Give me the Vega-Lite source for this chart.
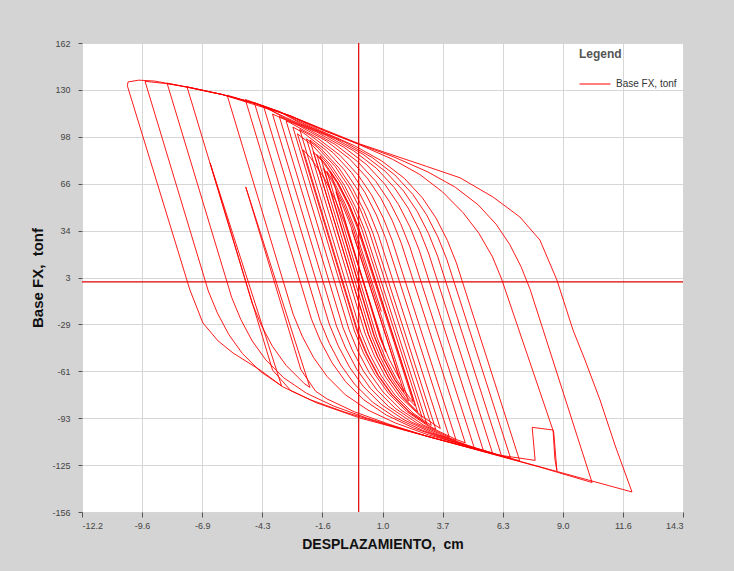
{
  "$schema": "https://vega.github.io/schema/vega-lite/v6.json",
  "width": 601,
  "height": 469,
  "autosize": {"type": "none"},
  "padding": {"left": 82, "top": 43, "right": 51, "bottom": 59},
  "background": "#d4d4d4",
  "config": {
    "font": "Liberation Sans",
    "view": {"fill": "white", "stroke": null},
    "axis": {
      "grid": true,
      "gridColor": "#d6d6d6",
      "gridWidth": 1,
      "domain": false,
      "tickColor": "#555555",
      "tickSize": 5,
      "labelFontSize": 9,
      "labelColor": "#444444",
      "titleFontSize": 14,
      "titleFontWeight": "bold",
      "titleColor": "#111111"
    }
  },
  "layer": [
    {
      "data": {"values": [{"v": 0}]},
      "mark": {"type": "rule", "color": "#e00000", "strokeWidth": 1.2},
      "encoding": {"y": {"field": "v", "type": "quantitative"}}
    },
    {
      "data": {"values": [{"v": 0}]},
      "mark": {"type": "rule", "color": "#e00000", "strokeWidth": 1.2},
      "encoding": {"x": {"field": "v", "type": "quantitative"}}
    },
    {
      "data": {"values": [
        {"x":1.0,"y":-20},{"x":-0.2,"y":37.6},{"x":-0.6,"y":53.0},{"x":-1.1,"y":68.1},{"x":-1.4,"y":75.0},
        {"x":0.80,"y":-37.4},{"x":1.20,"y":-52.3},{"x":1.70,"y":-66.8},{"x":2.30,"y":-79.7},{"x":2.4,"y":-81.2},
        {"x":-0.06,"y":36.8},{"x":-0.46,"y":52.2},{"x":-0.96,"y":67.3},{"x":-1.56,"y":81.0},{"x":-2.0,"y":88.3},
        {"x":0.43,"y":-35.8},{"x":0.83,"y":-50.7},{"x":1.33,"y":-65.2},{"x":1.93,"y":-78.1},{"x":2.73,"y":-90.4},{"x":3.6,"y":-99.4},
        {"x":0.87,"y":31.7},{"x":0.47,"y":47.1},{"x":-0.03,"y":62.2},{"x":-0.63,"y":75.9},{"x":-1.43,"y":89.2},{"x":-2.43,"y":101.0},{"x":-2.9,"y":105.0},
        {"x":-0.19,"y":-33.2},{"x":0.21,"y":-48.1},{"x":0.71,"y":-62.6},{"x":1.31,"y":-75.5},{"x":2.11,"y":-87.8},{"x":3.11,"y":-98.2},{"x":4.31,"y":-106.9},{"x":4.7,"y":-109.1},
        {"x":1.88,"y":26.2},{"x":1.48,"y":41.6},{"x":0.98,"y":56.7},{"x":0.38,"y":70.4},{"x":-0.42,"y":83.7},{"x":-1.42,"y":95.5},{"x":-2.62,"y":105.8},{"x":-3.8,"y":113.8},
        {"x":-0.98,"y":-29.9},{"x":-0.58,"y":-44.8},{"x":-0.08,"y":-59.3},{"x":0.52,"y":-72.2},{"x":1.32,"y":-84.5},{"x":2.32,"y":-94.9},{"x":3.52,"y":-103.6},{"x":5.02,"y":-111.9},{"x":5.9,"y":-116.0},
        {"x":3.08,"y":19.6},{"x":2.68,"y":35.0},{"x":2.18,"y":50.1},{"x":1.58,"y":63.8},{"x":0.78,"y":77.1},{"x":-0.22,"y":88.9},{"x":-1.42,"y":99.2},{"x":-2.92,"y":109.4},{"x":-4.5,"y":120.8},{"x":-5.8,"y":126.6},
        {"x":-2.89,"y":-21.9},{"x":-2.49,"y":-36.8},{"x":-1.99,"y":-51.3},{"x":-1.39,"y":-64.2},{"x":-0.59,"y":-76.5},{"x":0.41,"y":-86.9},{"x":1.61,"y":-95.6},{"x":3.11,"y":-103.9},{"x":5.0,"y":-112.0},{"x":7.1,"y":-121.3},
        {"x":4.31,"y":12.8},{"x":3.91,"y":28.2},{"x":3.41,"y":43.3},{"x":2.81,"y":57.0},{"x":2.01,"y":70.3},{"x":1.01,"y":82.1},{"x":-0.19,"y":92.4},{"x":-1.69,"y":102.6},{"x":-3.0,"y":112.5},{"x":-4.5,"y":120.7},{"x":-6.0,"y":127.0},{"x":-7.57,"y":132.3},
        {"x":-4.70,"y":-14.3},{"x":-4.30,"y":-29.2},{"x":-3.80,"y":-43.7},{"x":-3.20,"y":-56.6},{"x":-2.40,"y":-68.9},{"x":-2.15,"y":-71.5},{"x":-4.98,"y":64.4},{"x":-2.55,"y":-59.5},{"x":-1.9,"y":-74.1},{"x":-1.40,"y":-79.3},{"x":-0.20,"y":-88.0},{"x":1.30,"y":-96.3},{"x":3.0,"y":-104.6},{"x":6.0,"y":-117.0},{"x":7.78,"y":-121.0},{"x":7.65,"y":-98.6},{"x":8.57,"y":-100.4},{"x":8.65,"y":-120.0},{"x":8.74,"y":-128.0},
        {"x":8.6,"y":-102.0},{"x":6.3,"y":2.0},{"x":5.9,"y":17.0},{"x":5.3,"y":33.0},{"x":4.6,"y":47.0},{"x":3.7,"y":61.0},{"x":2.7,"y":72.8},{"x":1.5,"y":83.1},{"x":0.0,"y":93.3},{"x":-1.5,"y":102.5},{"x":-3.0,"y":112.5},{"x":-4.5,"y":120.7},{"x":-6.0,"y":127.0},{"x":-7.5,"y":132.0},{"x":-8.5,"y":134.5},{"x":-9.42,"y":136.0},
        {"x":-6.63,"y":-6.2},{"x":-6.23,"y":-21.1},{"x":-5.73,"y":-35.6},{"x":-5.13,"y":-48.5},{"x":-4.33,"y":-60.8},{"x":-3.4,"y":-70.5},{"x":-6.55,"y":80.6},{"x":-3.8,"y":-59.7},{"x":-3.0,"y":-73.6},{"x":-2.13,"y":-79.9},{"x":-0.63,"y":-88.2},{"x":2.0,"y":-100.4},{"x":5.0,"y":-113.0},{"x":8.0,"y":-125.6},{"x":10.29,"y":-136.0},
        {"x":7.56,"y":-5.1},{"x":7.16,"y":10.3},{"x":6.66,"y":25.4},{"x":6.06,"y":39.1},{"x":5.26,"y":52.4},{"x":4.26,"y":64.2},{"x":3.06,"y":74.5},{"x":1.56,"y":84.7},{"x":0.0,"y":93.5},{"x":-1.5,"y":102.5},{"x":-3.0,"y":112.5},{"x":-4.5,"y":120.7},{"x":-6.0,"y":127.0},{"x":-7.5,"y":132.0},{"x":-9.0,"y":136.2},{"x":-9.7,"y":136.8},{"x":-10.17,"y":135.6},
        {"x":-10.2,"y":133.0},{"x":-7.44,"y":-5.5},{"x":-6.87,"y":-27.8},{"x":-6.2,"y":-40.0},{"x":-5.54,"y":-48.2},{"x":-4.35,"y":-59.7},{"x":-3.34,"y":-71.2},{"x":-1.84,"y":-82.1},{"x":0.06,"y":-92.3},{"x":3.0,"y":-104.5},{"x":6.0,"y":-117.0},{"x":9.0,"y":-129.6},{"x":11.0,"y":-138.0},{"x":12.05,"y":-142.4},
        {"x":11.3,"y":-110.6},{"x":10.64,"y":-80.0},{"x":9.98,"y":-53.0},{"x":9.45,"y":-32.6},{"x":8.74,"y":1.3},{"x":7.99,"y":28.4},{"x":7.11,"y":44.0},{"x":5.92,"y":57.6},{"x":4.47,"y":70.6},{"x":3.0,"y":78.3},{"x":0.0,"y":93.8},{"x":-3.0,"y":112.5},{"x":-6.0,"y":127.0},{"x":-8.45,"y":134.8},
        {"x":-5.60,"y":-10.5},{"x":-5.20,"y":-25.4},{"x":-4.70,"y":-39.9},{"x":-4.10,"y":-52.8},{"x":-3.30,"y":-65.1},{"x":-2.30,"y":-75.5},{"x":-1.10,"y":-84.2},{"x":0.40,"y":-92.5},{"x":3.0,"y":-104.6},{"x":6.7,"y":-119.6},
        {"x":3.89,"y":15.1},{"x":3.49,"y":30.5},{"x":2.99,"y":45.6},{"x":2.39,"y":59.3},{"x":1.59,"y":72.6},{"x":0.59,"y":84.4},{"x":-0.61,"y":94.7},{"x":-2.11,"y":104.9},{"x":-3.5,"y":115.5},{"x":-5.0,"y":123.7},
        {"x":-2.08,"y":-25.3},{"x":-1.68,"y":-40.2},{"x":-1.18,"y":-54.7},{"x":-0.58,"y":-67.6},{"x":0.22,"y":-79.9},{"x":1.22,"y":-90.3},{"x":2.42,"y":-99.0},{"x":3.92,"y":-107.3},{"x":6.3,"y":-118.0},
        {"x":3.48,"y":17.4},{"x":3.08,"y":32.8},{"x":2.58,"y":47.9},{"x":1.98,"y":61.6},{"x":1.18,"y":74.9},{"x":0.18,"y":86.7},{"x":-1.02,"y":97.0},{"x":-2.52,"y":107.2},{"x":-3.5,"y":115.5},{"x":-4.6,"y":121.5},
        {"x":-1.69,"y":-26.9},{"x":-1.29,"y":-41.8},{"x":-0.79,"y":-56.3},{"x":-0.19,"y":-69.2},{"x":0.61,"y":-81.5},{"x":1.61,"y":-91.9},{"x":2.81,"y":-100.6},{"x":4.31,"y":-108.9},{"x":5.5,"y":-114.4},
        {"x":2.66,"y":21.9},{"x":2.26,"y":37.3},{"x":1.76,"y":52.4},{"x":1.16,"y":66.1},{"x":0.36,"y":79.4},{"x":-0.64,"y":91.2},{"x":-1.84,"y":101.5},{"x":-3.34,"y":111.7},{"x":-4.2,"y":119.4},
        {"x":-1.30,"y":-28.5},{"x":-0.90,"y":-43.4},{"x":-0.40,"y":-57.9},{"x":0.20,"y":-70.8},{"x":1.00,"y":-83.1},{"x":2.00,"y":-93.5},{"x":3.20,"y":-102.2},{"x":4.70,"y":-110.5},{"x":5.1,"y":-112.7},
        {"x":2.25,"y":24.1},{"x":1.85,"y":39.5},{"x":1.35,"y":54.6},{"x":0.75,"y":68.3},{"x":-0.05,"y":81.6},{"x":-1.05,"y":93.4},{"x":-2.25,"y":103.7},{"x":-3.5,"y":112.2},
        {"x":-0.69,"y":-31.1},{"x":-0.29,"y":-46.0},{"x":0.21,"y":-60.5},{"x":0.81,"y":-73.4},{"x":1.61,"y":-85.7},{"x":2.61,"y":-96.1},{"x":3.81,"y":-104.8},{"x":4.3,"y":-107.5},
        {"x":1.47,"y":28.4},{"x":1.07,"y":43.8},{"x":0.57,"y":58.9},{"x":-0.03,"y":72.6},{"x":-0.83,"y":85.9},{"x":-1.83,"y":97.7},{"x":-3.03,"y":108.0},{"x":-3.2,"y":109.2},
        {"x":-0.43,"y":-32.2},{"x":-0.03,"y":-47.1},{"x":0.47,"y":-61.6},{"x":1.07,"y":-74.5},{"x":1.87,"y":-86.8},{"x":2.87,"y":-97.2},{"x":4.0,"y":-105.4},
        {"x":1.18,"y":30.0},{"x":0.78,"y":45.4},{"x":0.28,"y":60.5},{"x":-0.32,"y":74.2},{"x":-1.12,"y":87.5},{"x":-2.12,"y":99.3},{"x":-2.6,"y":103.4},
        {"x":0.10,"y":-34.4},{"x":0.50,"y":-49.3},{"x":1.00,"y":-63.8},{"x":1.60,"y":-76.7},{"x":2.40,"y":-89.0},{"x":3.2,"y":-97.3},
        {"x":0.47,"y":33.9},{"x":0.07,"y":49.3},{"x":-0.43,"y":64.4},{"x":-1.03,"y":78.1},{"x":-1.83,"y":91.4},{"x":-2.3,"y":97.0},
        {"x":0.29,"y":-35.2},{"x":0.69,"y":-50.1},{"x":1.19,"y":-64.6},{"x":1.79,"y":-77.5},{"x":2.8,"y":-92.0},
        {"x":0.14,"y":35.7},{"x":-0.26,"y":51.1},{"x":-0.76,"y":66.2},{"x":-1.36,"y":79.9},{"x":-1.7,"y":85.6},
        {"x":0.70,"y":-36.9},{"x":1.10,"y":-51.8},{"x":1.60,"y":-66.3},{"x":2.0,"y":-74.9},
        {"x":-0.36,"y":38.5},{"x":-0.76,"y":53.9},{"x":-1.0,"y":61.1},
        {"x":0.94,"y":-37.9},{"x":1.2,"y":-47.6},
        {"x":-0.62,"y":39.9},{"x":-1.02,"y":55.3},{"x":-1.52,"y":70.4},{"x":-2.12,"y":84.1},{"x":-2.45,"y":89.6},
        {"x":-0.03,"y":-33.9},{"x":0.37,"y":-48.8},{"x":0.87,"y":-63.3},{"x":1.47,"y":-76.2},{"x":2.27,"y":-88.5},{"x":3.0,"y":-96.1},
        {"x":0.27,"y":35.0},{"x":-0.13,"y":50.4},{"x":-0.63,"y":65.5},{"x":-1.23,"y":79.2},{"x":-2.03,"y":92.5},{"x":-2.7,"y":100.4},
        {"x":-0.07,"y":-33.7},{"x":0.33,"y":-48.6},{"x":0.83,"y":-63.1},{"x":1.43,"y":-76.0},{"x":2.23,"y":-88.3},{"x":3.23,"y":-98.7},{"x":3.4,"y":-100.0},
        {"x":0.63,"y":33.0},{"x":0.23,"y":48.4},{"x":-0.27,"y":63.5},{"x":-0.87,"y":77.2},{"x":-1.67,"y":90.5},{"x":-2.15,"y":96.2},
        {"x":0.44,"y":-35.8},{"x":0.84,"y":-50.7},{"x":1.34,"y":-65.2},{"x":1.94,"y":-78.1},{"x":2.6,"y":-88.2},
        {"x":0.0,"y":36.5},{"x":-0.4,"y":51.9},{"x":-0.9,"y":67.0},{"x":-1.5,"y":80.7},{"x":-1.85,"y":86.5},
        {"x":0.56,"y":-36.4},{"x":0.96,"y":-51.3},{"x":1.46,"y":-65.8},{"x":2.06,"y":-78.7},{"x":2.2,"y":-80.9},
        {"x":-0.28,"y":38.0},{"x":-0.68,"y":53.4},{"x":-1.18,"y":68.5},{"x":-1.55,"y":77.0},
        {"x":0.68,"y":-36.9},{"x":1.08,"y":-51.8},{"x":1.58,"y":-66.3},{"x":2.18,"y":-79.2},{"x":2.5,"y":-84.1},
        {"x":-0.01,"y":36.6},{"x":-0.41,"y":52.0},{"x":-0.91,"y":67.1},{"x":-1.25,"y":74.9},
        {"x":0.96,"y":-38.0},{"x":1.36,"y":-52.9},{"x":1.8,"y":-65.7},{"x":-0.3,"y":35.1}
      ]},
      "mark": {"type": "line", "strokeWidth": 0.9},
      "encoding": {
        "x": {
          "field": "x", "type": "quantitative",
          "scale": {"domain": [-12.2, 14.3], "nice": false, "zero": false},
          "axis": {
            "values": [-12.2, -9.55, -6.9, -4.25, -1.6, 1.05, 3.7, 6.35, 9.0, 11.65, 14.3],
            "labelExpr": "['-12.2','-9.6','-6.9','-4.3','-1.6','1.0','3.7','6.3','9.0','11.6','14.3'][round((datum.value+12.2)/2.65)]",
            "labelPadding": 4,
            "title": "DESPLAZAMIENTO,\u00a0 cm",
            "titlePadding": 7
          }
        },
        "y": {
          "field": "y", "type": "quantitative",
          "scale": {"domain": [-156, 162], "nice": false, "zero": false},
          "axis": {
            "values": [-156, -124.2, -92.4, -60.6, -28.8, 3, 34.8, 66.6, 98.4, 130.2, 162],
            "labelExpr": "['-156','-125','-93','-61','-29','3','34','66','98','130','162'][round((datum.value+156)/31.8)]",
            "tickSize": 4,
            "labelPadding": 8,
            "title": "Base FX,\u00a0 tonf",
            "titleFontSize": 15,
            "titlePadding": 6
          }
        },
        "order": {"value": null},
        "color": {
          "datum": "Base FX, tonf",
          "type": "nominal",
          "scale": {"range": ["#ff0000"]},
          "legend": {
            "orient": "top-right",
            "offset": 6,
            "padding": 0,
            "title": "Legend",
            "titleFontSize": 12,
            "titleFontWeight": "bold",
            "titleColor": "#555555",
            "titlePadding": 7,
            "labelFontSize": 10,
            "labelColor": "#333333",
            "labelOffset": 5,
            "symbolType": "stroke",
            "symbolSize": 961,
            "symbolStrokeWidth": 1,
            "symbolStrokeColor": "#ff0000"
          }
        }
      }
    }
  ]
}
